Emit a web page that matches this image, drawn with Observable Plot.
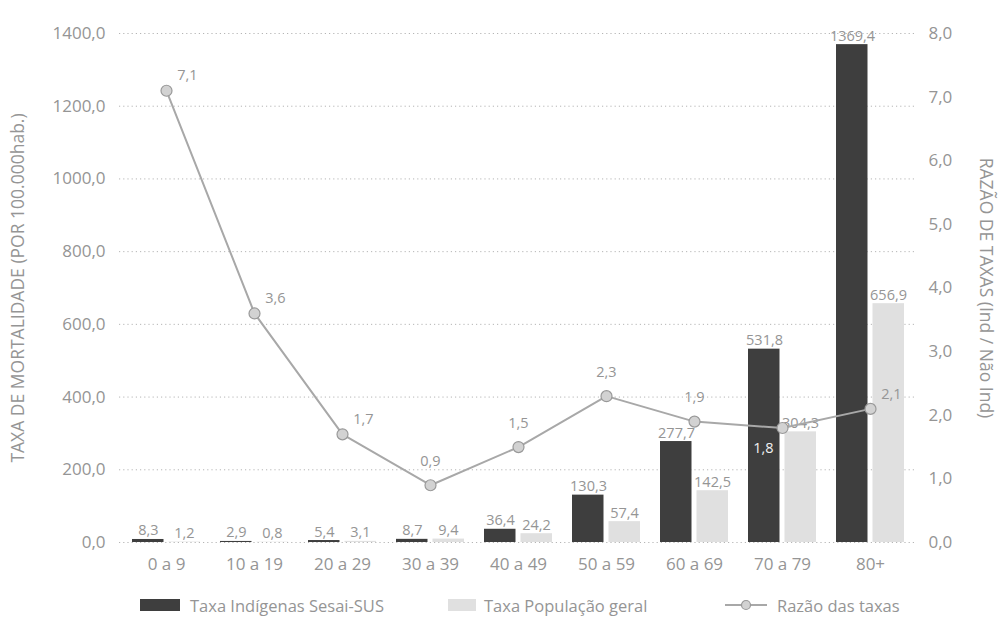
<!DOCTYPE html>
<html><head><meta charset="utf-8">
<script src="https://cdn.jsdelivr.net/npm/d3@7"></script>
<script src="https://cdn.jsdelivr.net/npm/@observablehq/plot@0.6"></script>
<style>
body{margin:0;background:#fff;font-family:"Open Sans",sans-serif;}
#wrap{position:relative;width:999px;height:622px;overflow:hidden;}
#legend{position:absolute;left:0;top:592px;width:999px;height:26px;font-size:16.5px;color:#959595;}
.li{position:absolute;top:0;height:26px;display:flex;align-items:center;white-space:nowrap;}
.sw{display:inline-block;height:12px;}
</style></head>
<body><div id="wrap"><div id="chart"></div><div id="legend"></div></div>
<script>
const categories = ["0 a 9","10 a 19","20 a 29","30 a 39","40 a 49","50 a 59","60 a 69","70 a 79","80+"];
const taxaIndigenas = [8.3, 2.9, 5.4, 8.7, 36.4, 130.3, 277.7, 531.8, 1369.4];
const taxaGeral = [1.2, 0.8, 3.1, 9.4, 24.2, 57.4, 142.5, 304.3, 656.9];
const razaoTaxas = [7.1, 3.6, 1.7, 0.9, 1.5, 2.3, 1.9, 1.8, 2.1];
const leftTicks = [0, 200, 400, 600, 800, 1000, 1200, 1400];
const rightTicks = [0, 1, 2, 3, 4, 5, 6, 7, 8];
const seriesNames = ["Taxa Indígenas Sesai-SUS", "Taxa População geral", "Razão das taxas"];
const leftTitle = "TAXA DE MORTALIDADE (POR 100.000hab.)";
const rightTitle = "RAZÃO DE TAXAS (Ind / Não Ind)";

const DARK = "#3e3e3e", LIGHT = "#e0e0e0", LINE = "#a8a8a8", TXT = "#959595";
const k = 1400 / 8; // right axis (ratio) mapped onto left scale
const fmt = v => v.toFixed(1).replace(".", ",");

const rows = categories.map((c, i) => ({cat: c, ind: taxaIndigenas[i], ger: taxaGeral[i], raz: razaoTaxas[i], rs: razaoTaxas[i] * k, i}));
const grpA = rows.filter(d => [0,1,2,8].includes(d.i));
const grpB = rows.filter(d => [3,4,5,6].includes(d.i));
const grpC = rows.filter(d => d.i === 7);

const chart = Plot.plot({
  width: 999, height: 585,
  marginLeft: 119, marginRight: 83, marginTop: 33, marginBottom: 43,
  style: {fontFamily: "'Open Sans', sans-serif", fontSize: "17px", color: TXT, background: "#fff"},
  x: {domain: categories, padding: 0},
  y: {domain: [0, 1400]},
  marks: [
    Plot.gridY(leftTicks, {stroke: "#b5b5b5", strokeOpacity: 1, strokeDasharray: "1.2,3"}),
    Plot.axisY({anchor: "left", ticks: leftTicks, tickFormat: fmt, tickSize: 0, tickPadding: 14, label: null, fontSize: 17}),
    Plot.axisY({anchor: "right", ticks: rightTicks.map(t => t * k), tickFormat: d => fmt(d / k), tickSize: 0, tickPadding: 12, label: null, fontSize: 17}),
    Plot.axisX({tickSize: 0, tickPadding: 15, label: null, fontSize: 17}),
    Plot.barY(rows, {x: "cat", y: "ind", fill: DARK, insetLeft: 10, insetRight: 46.5}),
    Plot.barY(rows, {x: "cat", y: "ger", fill: LIGHT, insetLeft: 46.5, insetRight: 10}),
    Plot.text(rows, {x: "cat", y: "ind", text: d => fmt(d.ind), dx: -18, dy: -4, lineAnchor: "bottom", fill: TXT, fontSize: 14.5}),
    Plot.text(rows, {x: "cat", y: "ger", text: d => fmt(d.ger), dx: 18, dy: -4, lineAnchor: "bottom", fill: TXT, fontSize: 14.5}),
    Plot.line(rows, {x: "cat", y: "rs", stroke: LINE, strokeWidth: 2}),
    Plot.dot(rows, {x: "cat", y: "rs", r: 5.5, fill: "#d2d2d2", stroke: "#999", strokeWidth: 1.2}),
    Plot.text(grpA, {x: "cat", y: "rs", text: d => fmt(d.raz), dx: 21, dy: -15, fill: TXT, fontSize: 14.5}),
    Plot.text(grpB, {x: "cat", y: "rs", text: d => fmt(d.raz), dy: -24, fill: TXT, fontSize: 14.5}),
    Plot.text(grpC, {x: "cat", y: "rs", text: d => fmt(d.raz), dx: -19, dy: 20, fill: "#f0f0f0", fontSize: 14.5}),
    Plot.text([leftTitle], {frameAnchor: "left", dx: -101, rotate: -90, textAnchor: "middle", fill: TXT, fontSize: 17.5}),
    Plot.text([rightTitle], {frameAnchor: "right", dx: 69, rotate: 90, textAnchor: "middle", fill: TXT, fontSize: 17.5})
  ]
});
document.getElementById("chart").appendChild(chart);

const legend = document.getElementById("legend");
const items = [
  {left: 140, sw: `<span class="sw" style="width:40px;margin-right:10px;background:${DARK}"></span>`},
  {left: 448, sw: `<span class="sw" style="width:28px;margin-right:8px;background:${LIGHT}"></span>`},
  {left: 725, sw: `<svg width="42" height="12" style="margin-right:10px"><line x1="0" y1="6" x2="42" y2="6" stroke="${LINE}" stroke-width="2"/><circle cx="21" cy="6" r="4.5" fill="#d2d2d2" stroke="#999" stroke-width="1.2"/></svg>`}
];
items.forEach((it, i) => {
  const d = document.createElement("div");
  d.className = "li";
  d.style.left = it.left + "px";
  d.innerHTML = it.sw + `<span>${seriesNames[i]}</span>`;
  legend.appendChild(d);
});
</script>
</body></html>
